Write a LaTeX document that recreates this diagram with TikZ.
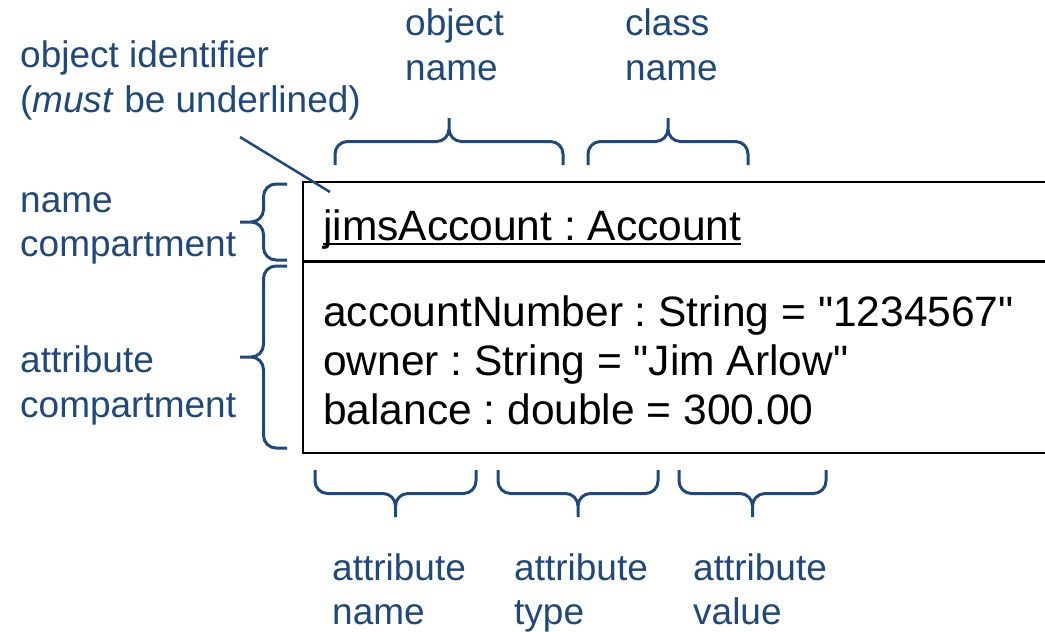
\documentclass[tikz,border=0pt]{standalone}
\usepackage{fontspec}
\setmainfont{Liberation Sans}[Ligatures=TeXOff]
\usetikzlibrary{calc}
\definecolor{lblue}{HTML}{1F497D}
\frenchspacing
\tikzset{
  blk/.style={inner sep=0pt, anchor=base west, font=\fontsize{42.5}{49}\selectfont, text=black},
  lbl/.style={inner sep=0pt, anchor=base west, font=\fontsize{37}{45}\selectfont, text=lblue},
  bracestyle/.style={draw=lblue, line width=3pt, line join=round},
  boxline/.style={draw=black, line width=2.5pt},
  leader/.style={draw=lblue, line width=2.5pt},
}
\newcommand\mybrace[1]{%
  \draw[bracestyle] (0,0) -- (0,11) .. controls (0,17.9) and (5.6,23.5) .. (12.5,23.5)
    -- ({#1/2-12.5},23.5) .. controls ({#1/2-5.6},23.5) and ({#1/2},29.1) .. ({#1/2},36) -- ({#1/2},47)
    (#1,0) -- (#1,11) .. controls (#1,17.9) and ({#1-5.6},23.5) .. ({#1-12.5},23.5)
    -- ({#1/2+12.5},23.5) .. controls ({#1/2+5.6},23.5) and ({#1/2},29.1) .. ({#1/2},36);
}
\begin{document}
\frenchspacing
\begin{tikzpicture}[x=1pt,y=-1pt]
\useasboundingbox (0,0) rectangle (1045,632);
% object box (open at the right edge, as in the reference)
\draw[boxline] (1047,182) -- (303,182) -- (303,453) -- (1047,453);
\draw[boxline] (303,261.5) -- (1047,261.5);
% box contents
\node[blk] (objname) at (323,240) {jimsAccount : Account};
\draw[line width=2pt] ($(objname.base west)+(0,4)$) -- ($(objname.base east)+(0,4)$);
\node[blk] (attr1) at (323,326) {accountNumber : String = "1234567"};
\node[blk] (attr2) at (323,375) {owner : String = "Jim Arlow"};
\node[blk] (attr3) at (323,424) {balance : double = 300.00};
% labels
\node[lbl] (oid1) at (20,67) {object identifier};
\node[lbl] (oid2) at (20,112) {(\textit{must}\/ be underlined)};
\node[lbl] (on1) at (405,35) {object};
\node[lbl] (on2) at (405,80) {name};
\node[lbl] (cn1) at (625,35) {class};
\node[lbl] (cn2) at (625,80) {name};
\node[lbl] (nc1) at (20,212) {name};
\node[lbl] (nc2) at (20,256) {compartment};
\node[lbl] (ac1) at (20,372) {attribute};
\node[lbl] (ac2) at (20,417) {compartment};
\node[lbl] (an1) at (332,580) {attribute};
\node[lbl] (an2) at (332,624) {name};
\node[lbl] (at1) at (514,580) {attribute};
\node[lbl] (at2) at (514,624) {type};
\node[lbl] (av1) at (693,580) {attribute};
\node[lbl] (av2) at (693,624) {value};
% leader line
\coordinate (lead0) at (240,137);
\coordinate (lead1) at (330,192);
\draw[leader] (lead0) -- (lead1);
% bottom braces
\begin{scope}[shift={(315,470)}] \mybrace{161} \end{scope}
\begin{scope}[shift={(498,470)}] \mybrace{160} \end{scope}
\begin{scope}[shift={(679,470)}] \mybrace{147} \end{scope}
% top braces
\begin{scope}[shift={(335,165)}, y={(0pt,1pt)}] \mybrace{228} \end{scope}
\begin{scope}[shift={(588,165)}, y={(0pt,1pt)}] \mybrace{160} \end{scope}
% left braces
\begin{scope}[shift={(287,184)}, x={(0pt,-1pt)}, y={(-1pt,0pt)}] \mybrace{76} \end{scope}
\begin{scope}[shift={(287,266)}, x={(0pt,-1pt)}, y={(-1pt,0pt)}] \mybrace{182} \end{scope}
\end{tikzpicture}
\end{document}
